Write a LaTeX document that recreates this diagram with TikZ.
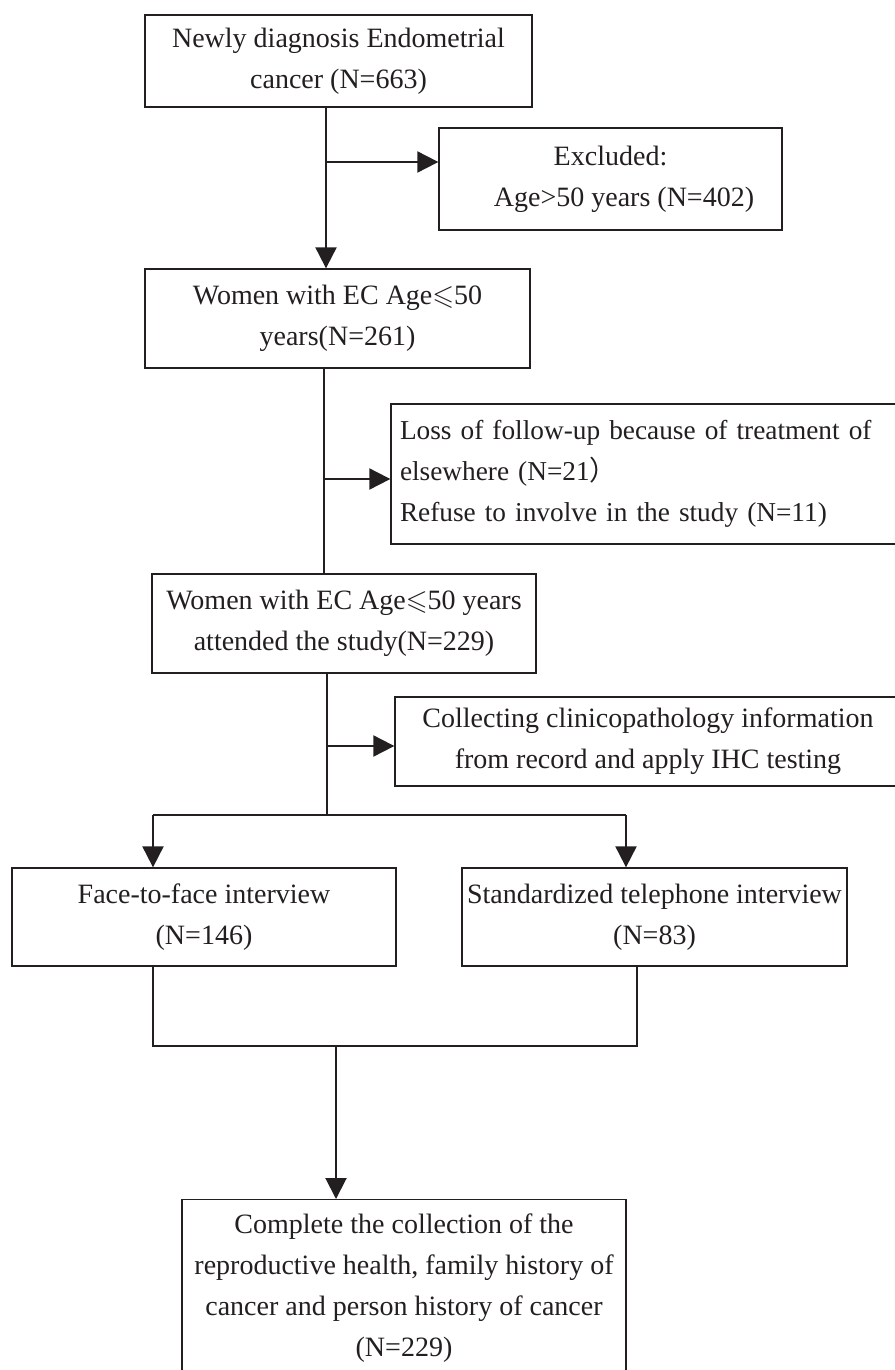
\documentclass[tikz,border=0pt]{standalone}
\usepackage{amssymb}
\usepackage{fontspec}
\setmainfont{Liberation Serif}
\newfontfamily\cjkfont{Noto Sans CJK SC}
\usetikzlibrary{arrows.meta,calc}
\definecolor{ink}{RGB}{35,31,32}
\tikzset{
  box/.style={draw=ink, line width=1.3pt, rectangle, inner sep=0pt, text=ink,
    font=\fontsize{28}{41}\selectfont, align=center},
  conn/.style={draw=ink, line width=2pt},
  arr/.style={conn, -{Triangle[length=21pt,width=21pt]}}
}
\begin{document}
\begin{tikzpicture}[x=1pt,y=-1pt]
\useasboundingbox[fill=white] (0,0) rectangle (894,1370);
% boxes
\node[box, minimum width=387pt, minimum height=92pt] (b1) at (338.5,61)
  {Newly diagnosis Endometrial\\cancer (N=663)};
\node[box, minimum width=343pt, minimum height=102pt] (ex) at (610.5,179)
  {\raisebox{3pt}{Excluded:}\\\hspace*{27pt}\raisebox{3pt}{Age>50 years (N=402)}};
\node[box, minimum width=385pt, minimum height=99pt] (b3) at (337.5,318.5)
  {Women with EC Age$\leqslant$50\\years(N=261)};
\node[box, minimum width=510pt, minimum height=140pt, align=left, text width=492pt,
  font=\fontsize{27.3}{41}\selectfont] (loss) at (646,474)
  {Loss of follow-up because of treatment of\\elsewhere (N=21{\cjkfont ）}\\Refuse to involve in the study (N=11)};
\node[box, minimum width=384pt, minimum height=99pt] (b4) at (344,623.5)
  {Women with EC Age$\leqslant$50 years\\attended the study(N=229)};
\node[box, minimum width=506pt, minimum height=89pt] (col) at (648,741.5)
  {Collecting clinicopathology information\\from record and apply IHC testing};
\node[box, minimum width=384pt, minimum height=98pt] (face) at (204,917)
  {Face-to-face interview\\(N=146)};
\node[box, minimum width=385pt, minimum height=98pt] (tel) at (654.5,917)
  {Standardized telephone interview\\(N=83)};
\node[box, minimum width=444pt, inner ysep=14pt, anchor=north] (fin) at (404,1199)
  {Complete the collection of the\\reproductive health, family history of\\cancer and person history of cancer\\(N=229)};
% connector joints
\coordinate (j1) at (326,162);
\coordinate (j2) at (324,479);
\coordinate (j3) at (327,746);
\coordinate (s) at (327,815);
\coordinate (sl) at (153,815);
\coordinate (sr) at (626,815);
\coordinate (ml) at (153,1046);
\coordinate (mr) at (637,1046);
\coordinate (mc) at (336,1046);
% connectors
\draw[arr] (j1 |- b1.south) -- (j1 |- b3.north);
\draw[arr] (j1) -- (j1 -| ex.west);
\draw[conn] (j2 |- b3.south) -- (j2 |- b4.north);
\draw[arr] (j2) -- (j2 -| loss.west);
\draw[conn] (j3 |- b4.south) -- (s);
\draw[arr] (j3) -- (j3 -| col.west);
\draw[conn] (sl) -- (sr);
\draw[arr] (sl) -- (sl |- face.north);
\draw[arr] (sr) -- (sr |- tel.north);
\draw[conn] (ml |- face.south) -- (ml) -- (mr) -- (mr |- tel.south);
\draw[arr] (mc) -- (mc |- fin.north);
\end{tikzpicture}
\end{document}
